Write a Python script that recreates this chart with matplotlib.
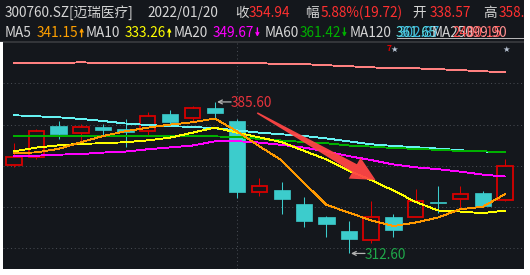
import matplotlib
matplotlib.use("Agg")
import matplotlib.pyplot as plt
import numpy as np
from matplotlib.patches import Polygon, Rectangle, FancyArrowPatch
from matplotlib.lines import Line2D

plt.rcParams['font.family'] = ['Noto Sans CJK SC', 'DejaVu Sans']

# daily K-line data, 300760.SZ
dates = ['2021/12/20', '2021/12/21', '2021/12/22', '2021/12/23', '2021/12/24',
         '2021/12/27', '2021/12/28', '2021/12/29', '2021/12/30', '2021/12/31',
         '2022/01/04', '2022/01/05', '2022/01/06', '2022/01/07', '2022/01/10',
         '2022/01/11', '2022/01/12', '2022/01/13', '2022/01/14', '2022/01/17',
         '2022/01/18', '2022/01/19', '2022/01/20']
opens = [355.1, 359.2, 374.0, 370.8, 373.6, 372.6, 371.5, 379.8, 377.9, 382.7, 376.4, 342.1,
         343.2, 336.4, 330.2, 323.6, 318.9, 330.2, 330.3, 337.4, 339.0, 341.7, 338.57]
closes = [359.1, 371.5, 370.3, 373.4, 372.1, 371.1, 378.9, 376.0, 382.7, 380.3, 342.4, 345.0,
          338.7, 328.2, 326.8, 319.7, 330.0, 324.1, 337.9, 337.1, 341.3, 335.22, 354.94]
highs = [366.0, 372.6, 376.4, 374.9, 375.1, 377.4, 380.8, 381.7, 383.8, 385.6, 377.6, 349.0,
         347.0, 339.8, 330.4, 328.4, 337.9, 331.6, 343.5, 345.1, 345.1, 342.7, 358.20]
lows = [354.3, 358.1, 367.9, 366.1, 369.2, 364.1, 369.6, 374.0, 376.0, 377.9, 339.5, 340.3,
        331.8, 325.5, 320.7, 312.6, 317.6, 320.5, 330.2, 332.2, 333.9, 335.2, 337.9]

ma5 = [360.9, 361.3, 363.0, 366.2, 369.2, 371.5, 373.2, 374.7, 375.8, 377.6, 371.4, 364.2,
       357.4, 346.6, 336.0, 332.3, 328.5, 325.8, 327.5, 329.9, 333.9, 335.1, 341.15]
ma10 = [361.8, 363.6, 364.7, 365.4, 365.7, 366.2, 367.1, 368.4, 370.8, 373.2, 370.8, 368.5,
        366.2, 362.0, 357.9, 352.5, 348.0, 342.9, 337.4, 333.3, 332.8, 332.0, 333.26]
ma20 = [359.4, 359.7, 360.2, 360.5, 361.2, 361.7, 362.8, 363.7, 364.6, 366.6, 366.7, 366.0,
        364.9, 363.6, 361.7, 359.5, 357.6, 355.5, 354.1, 353.2, 352.0, 350.6, 349.67]
ma60 = [369.1, 369.1, 369.0, 369.1, 369.1, 369.0, 369.1, 369.0, 369.1, 369.0, 368.7, 367.8,
        367.0, 366.3, 365.7, 364.6, 364.1, 363.4, 363.0, 362.5, 362.0, 361.8, 361.42]
ma120 = [379.2, 378.7, 378.2, 377.4, 376.4, 375.2, 374.5, 373.9, 373.6, 372.9, 371.9, 370.8,
         370.0, 369.2, 368.0, 366.6, 365.2, 364.4, 363.8, 363.1, 362.3, 361.7, 361.65]
ma250 = [404.3, 404.3, 404.3, 404.7, 404.3, 404.3, 404.3, 404.3, 404.3, 404.3, 404.3, 404.3,
         403.8, 403.8, 403.3, 402.8, 402.3, 401.8, 401.8, 401.4, 400.9, 400.4, 399.9]
star_days = ['2022/01/13', '2022/01/20']

BG = '#14171c'
RED = '#d80000'
CYAN = '#3ccccc'
WHITE = '#d6d6d6'
W, H = 530, 275

fig = plt.figure(figsize=(W / 100, H / 100), dpi=100, facecolor=BG)
ax = fig.add_axes([3 / W, 6 / H, 521 / W, 226 / H])
ax.set_xlim(-0.493, 22.852)
ax.set_ylim(305.1, 414.0)
ax.axis('off')

x = np.arange(len(dates))
o = np.array(opens)
c = np.array(closes)
h = np.array(highs)
l = np.array(lows)
up = c >= o

# dotted grid
GRID = '#464a50'
for f in [0.178, 0.361, 0.543, 0.726, 0.908]:
    ax.plot([0, 1], [1 - f, 1 - f], transform=ax.transAxes, color=GRID,
            lw=0.75, dashes=(1, 2.6), zorder=0)
ax.axvline(dates.index('2022/01/04'), color=GRID, lw=0.75, dashes=(1, 2.6), zorder=0)

# candles
ax.vlines(x[up], c[up], h[up], color=RED, lw=0.75, zorder=2)
ax.vlines(x[up], l[up], o[up], color=RED, lw=0.75, zorder=2)
ax.vlines(x[~up], l[~up], h[~up], color=CYAN, lw=0.75, zorder=2)
ax.bar(x[up], c[up] - o[up], bottom=o[up], width=0.68, facecolor='none',
       edgecolor=RED, lw=1.3, zorder=3)
ax.bar(x[~up], o[~up] - c[~up], bottom=c[~up], width=0.73, color=CYAN,
       edgecolor=CYAN, lw=0.5, zorder=3)

# moving averages
for vals, col in [(ma250, '#ff8080'), (ma120, '#66f2f2'), (ma60, '#00b000'),
                  (ma20, '#ff00ff'), (ma10, '#ffff00'), (ma5, '#ff9900')]:
    ax.plot(x, vals, color=col, lw=0.65, antialiased=False, zorder=4)

# high / low labels
hi = int(np.argmax(h))
lo = int(np.argmin(l))
for idx, val, col in [(hi, h[hi], '#e8333c'), (lo, l[lo], '#1fa84a')]:
    ax.annotate('', xy=(idx + 0.1, val), xytext=(14, 0), textcoords='offset pixels',
                arrowprops=dict(arrowstyle='->', color='#b4b4b4', lw=0.9,
                                mutation_scale=7, shrinkA=0, shrinkB=0), zorder=5)
    ax.annotate(f'{val:.2f}', xy=(idx + 0.1, val), xytext=(14, 0),
                textcoords='offset pixels', color=col, fontsize=9.8,
                ha='left', va='center_baseline', zorder=5)

# star marks
for d in star_days:
    i = dates.index(d)
    ax.text(i + 0.05, 0.972, '\u2605', transform=ax.get_xaxis_transform(),
            color='#b8c4d4', fontsize=6, ha='center', va='center', family='DejaVu Sans')
ax.text(dates.index(star_days[0]) - 0.2, 0.976, '7', transform=ax.get_xaxis_transform(),
        color='#e00000', fontsize=6, fontweight='bold', ha='center', va='center')

# big red trend arrow
tail = ax.transData.transform((10.9, 380.3))
tip = ax.transData.transform((16.2, 348.0))
d = tip - tail
u = d / np.hypot(*d)
n = np.array([-u[1], u[0]])
base = tip - u * 24
pts = [tail + n * 0.8, base + n * 4.5, base + n * 12, tip,
       base - n * 12, base - n * 4.5, tail - n * 0.8]
ax.add_patch(Polygon(ax.transData.inverted().transform(pts), closed=True,
                     facecolor='#ff4545', edgecolor='none', alpha=0.95, zorder=6))

renderer = fig.canvas.get_renderer()


def put(px, py, s, col):
    return fig.text(px / W, 1 - py / H, s, color=col, fontsize=9.8, ha='left', va='baseline')


def put_ma(px, py, val, rising, col):
    t = put(px, py, f'{val:.2f}', col)
    bb = t.get_window_extent(renderer)
    ax_x = bb.x1 + 3
    top, bot = H - (py - 9.5), H - (py - 0.5)
    a, b = ((ax_x, bot), (ax_x, top)) if rising else ((ax_x, top), (ax_x, bot))
    fig.add_artist(FancyArrowPatch(a, b, transform=None, arrowstyle='->', color=col,
                                   lw=1.0, mutation_scale=5, shrinkA=0, shrinkB=0))


# header row 1
put(5, 17.3, '300760.SZ[迈瑞医疗]', WHITE)
put(147, 17.3, dates[-1], WHITE)
put(235, 17.3, '收', WHITE)
put(249, 17.3, f'{closes[-1]:.2f}', '#ff3030')
chg = closes[-1] - closes[-2]
put(305, 17.3, '幅', WHITE)
put(321, 17.3, f'{chg / closes[-2] * 100:.2f}%({chg:.2f})', '#ff3030')
put(412, 17.3, '开', WHITE)
put(430, 17.3, f'{opens[-1]:.2f}', '#ff3030')
put(483, 17.3, '高', WHITE)
put(499, 17.3, f'{highs[-1]:.2f}', '#ff3030')

# header row 2
put(5, 37.3, 'MA5', WHITE)
put_ma(37, 37.3, ma5[-1], True, '#ffa000')
put(86, 37.3, 'MA10', WHITE)
put_ma(125, 37.3, ma10[-1], True, '#ffff00')
put(174, 37.3, 'MA20', WHITE)
put_ma(213, 37.3, ma20[-1], False, '#ff00ff')
put(265, 37.3, 'MA60', WHITE)
put_ma(300, 37.3, ma60[-1], False, '#00b000')
put(350, 37.3, 'MA120', WHITE)
# overlapping, garbled labels at the end of the row (as in the screenshot)
put(396, 37.3, f'{ma120[-1]:.2f}', '#5ee8ee')
put(399, 37.3, '302.87', '#3cb8e0')
put(432, 37.3, 'MA250', WHITE)
put(452, 37.3, '2400.15', '#ff5050')
put(466, 37.3, f'{ma250[-1]:.2f}', '#ff9090')
fig.add_artist(Line2D([397 / W, 524 / W], [1 - 38 / H, 1 - 38 / H], color=WHITE, lw=0.6))

# separator under header
fig.add_artist(Line2D([0, 1], [1 - 42 / H, 1 - 42 / H], color='#3a3c40', lw=1.2))

# white margins of the screenshot
for rect in [(0, 0, 3 / W, 1 - 42 / H), (524 / W, 0, 6 / W, 1), (0, 0, 1, 6 / H)]:
    fig.add_artist(Rectangle(rect[:2], rect[2], rect[3], transform=fig.transFigure,
                             facecolor='white', edgecolor='none', zorder=20))

fig.savefig('out.png', dpi=100, facecolor=BG)
